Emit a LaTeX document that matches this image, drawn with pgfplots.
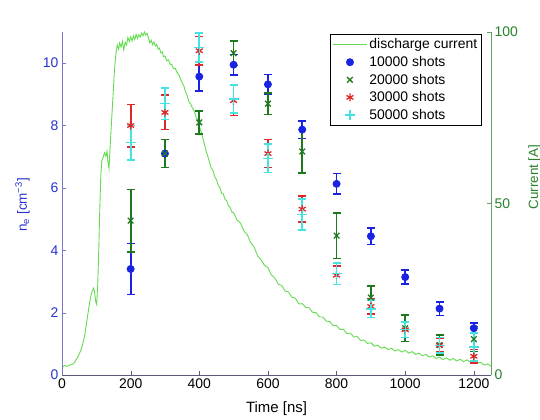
\documentclass[border=0pt]{standalone}
\usepackage{fontspec}
\setmainfont{Liberation Sans}
\usepackage{pgfplots}
\pgfplotsset{compat=1.18}
\definecolor{neblue}{RGB}{40,50,210}
\definecolor{neaxis}{RGB}{120,120,200}
\definecolor{xaxis}{RGB}{90,90,120}
\definecolor{curgreen}{RGB}{40,130,40}
\definecolor{curaxis}{RGB}{100,160,100}
\definecolor{curline}{RGB}{100,220,80}
\definecolor{mblue}{RGB}{25,35,225}
\definecolor{mgreen}{RGB}{30,120,30}
\definecolor{mred}{RGB}{225,40,40}
\definecolor{mcyan}{RGB}{70,225,225}
\pgfplotsset{
  common/.style={
    width=429bp, height=343bp, scale only axis,
    at={(0,0)}, anchor=south west,
    xmin=0, xmax=1250,
    tick align=inside, major tick length=4bp,
    /pgf/number format/assume math mode=true,
    /pgf/number format/1000 sep={},
    tick label style={font=\fontsize{14}{16}\selectfont},
  },
  errstyle/.style 2 args={
    color=#2, only marks, mark size=#1, mark options={line width=1.3pt, color=#2},
    error bars/.cd, y dir=both, y explicit,
    error bar style={color=#2, line width=1.8pt},
    error mark options={rotate=90, mark size=4bp, line width=1.6pt, color=#2},
  },
}
\begin{document}
\begin{tikzpicture}
% right axis: discharge current
\begin{axis}[common,
  ymin=0, ymax=100,
  axis y line*=right, axis x line=none,
  ytick={0,50,100},
  y axis line style={curaxis, line width=0.8pt},
  y tick style={curaxis},
  y tick label style={text=curgreen},
  ylabel={Current [A]},
  ylabel style={at={(axis description cs:1.1096,0.577)}, anchor=base, text=curgreen, font=\fontsize{13.5}{16}\selectfont},
]
\addplot[curline, line width=0.9pt, no marks] table {
0 2.2
8 2.8
15 2.5
22 2.9
30 3.1
36 3.6
42 4.6
48 5.6
54 7.0
60 8.8
66 11.5
72 15.5
78 19.5
84 23
88 24.5
92 25.3
95 24.2
98 21.5
101 20.6
104 26
107 36
110 48
113 58
116 62.5
120 63.5
124 64.8
128 63.8
131 65.2
134 62
137 60.2
141 68
145 75
149 82
153 89
157 93.5
161 96.2
165 95
168 96.8
172 95.6
176 97.3
180 94.8
184 97
188 96.2
192 98.4
196 97.2
200 98.6
204 97.4
208 98.9
212 97.8
216 99.3
220 98.1
224 99.2
228 98.5
232 99.7
236 98.9
240 100
244 99.1
248 99.6
252 98.3
256 96.8
260 97.6
264 96.3
268 97.1
272 95.9
276 96.4
280 95
284 95.3
288 93.9
292 94.2
296 92.8
300 93
305 91.6
310 91.9
315 90.6
320 90.5
325 89.3
330 89.4
335 88.2
340 87.6
345 86.4
350 85.2
355 84.3
360 82.5
365 81.4
370 79.6
375 79
380 77.8
385 77
390 75.4
395 74.2
400 72.6
405 71
410 69.2
415 67.3
420 65.3
425 63.7
430 62
435 60.3
440 59.6
445 57.8
450 57
455 55.4
460 54.6
465 53
470 52.8
475 51.2
480 50.8
485 49.3
490 48.9
495 47.5
500 47.3
510 45.2
520 44.3
530 42.0
540 40.9
550 38.5
560 37.3
570 34.7
580 33.6
590 32.0
600 31.3
610 29.2
620 28.3
630 26.5
640 26.1
650 24.5
660 24.2
670 22.7
680 22.4
690 20.7
700 20.8
710 19.7
720 19.6
730 18.3
740 18.2
750 16.9
760 16.9
770 15.7
780 15.6
790 14.4
800 14.4
810 13.3
820 13.3
830 12.1
840 12.2
850 11.1
860 11.2
870 10.1
880 10.2
890 9.2
900 9.4
910 8.4
920 8.7
930 7.8
940 8.2
950 7.4
960 7.8
970 7.0
980 7.4
990 6.7
1000 7.2
1010 6.4
1020 6.8
1030 6.0
1040 6.4
1050 5.6
1060 6.0
1070 5.2
1080 5.6
1090 4.8
1100 5.2
1110 4.5
1120 5.0
1130 4.3
1140 4.8
1150 4.1
1160 4.6
1170 3.9
1180 4.4
1190 3.7
1200 4.2
1210 3.5
1220 3.7
1230 2.9
1240 3.2
1250 2.6
};
\end{axis}
% left axis: electron density
\begin{axis}[common,
  ymin=0, ymax=11,
  axis x line*=bottom, axis y line*=left,
  xtick={0,200,...,1200}, ytick={0,2,...,10},
  x axis line style={xaxis, line width=0.8pt},
  y axis line style={neaxis, line width=0.8pt},
  x tick style={xaxis}, y tick style={neaxis},
  y tick label style={text=neblue},
  xlabel={Time [ns]},
  xlabel style={at={(axis description cs:0.5,-0.108)}, anchor=base, font=\fontsize{15}{17}\selectfont},
  ylabel={n\textsubscript{e} [cm\textsuperscript{−3}]},
  ylabel style={at={(axis description cs:-0.0816,0.496)}, anchor=base, text=neblue, font=\fontsize{13.5}{16}\selectfont},
  legend style={at={(axis description cs:0.979,0.994)}, anchor=north east, draw=black, line width=0.6pt,
    font=\fontsize{14}{16}\selectfont, inner sep=2.5pt, row sep=2bp, cells={anchor=west}},
  legend image code/.code={\draw[mark repeat=2,mark phase=2,#1] plot coordinates {(0bp,0bp) (17bp,0bp) (34bp,0bp)};},
]
\addlegendimage{curline, line width=1pt}
\addlegendentry{discharge current}
\addplot[mark=*, errstyle={3.3bp}{mblue}] table[x=t, y=v, y error=e] {
t v e
200 3.40 0.82
300 7.10 0.45
400 9.57 0.47
500 9.95 0.33
600 9.32 0.32
700 7.87 0.28
800 6.13 0.33
900 4.45 0.26
1000 3.14 0.22
1100 2.13 0.22
1200 1.50 0.17
};
\addlegendentry{10000 shots}
\addplot[mark=x, errstyle={4bp}{mgreen}] table[x=t, y=v, y error=e] {
t v e
200 4.95 1.00
300 7.10 0.45
400 8.10 0.37
500 10.32 0.40
600 8.70 0.34
700 7.17 0.70
800 4.47 0.73
900 2.48 0.38
1000 1.50 0.43
1100 0.96 0.32
1200 1.15 0.40
};
\addlegendentry{20000 shots}
\addplot[mark=asterisk, errstyle={4bp}{mred}] table[x=t, y=v, y error=e] {
t v e
200 8.00 0.68
300 8.42 0.55
400 10.40 0.45
500 8.80 0.48
600 7.10 0.45
700 5.32 0.42
800 3.20 0.30
900 2.20 0.25
1000 1.45 0.25
1100 0.95 0.22
1200 0.60 0.22
};
\addlegendentry{30000 shots}
\addplot[mark=+, errstyle={5bp}{mcyan}] table[x=t, y=v, y error=e] {
t v e
200 7.45 0.55
300 8.70 0.50
400 10.50 0.47
500 8.85 0.45
600 6.95 0.45
700 5.15 0.50
800 3.25 0.35
900 2.12 0.28
1000 1.45 0.25
1100 0.95 0.25
1200 0.90 0.45
};
\addlegendentry{50000 shots}
\node[anchor=base west, text=neblue, font=\fontsize{13}{15}\selectfont, inner sep=0pt] at (axis description cs:0.002,1.0204) {x 10\textsuperscript{16}};
\end{axis}
\pgfresetboundingbox
\path[use as bounding box] (-62bp,-45bp) rectangle (478bp,375bp);
\end{tikzpicture}
\end{document}
